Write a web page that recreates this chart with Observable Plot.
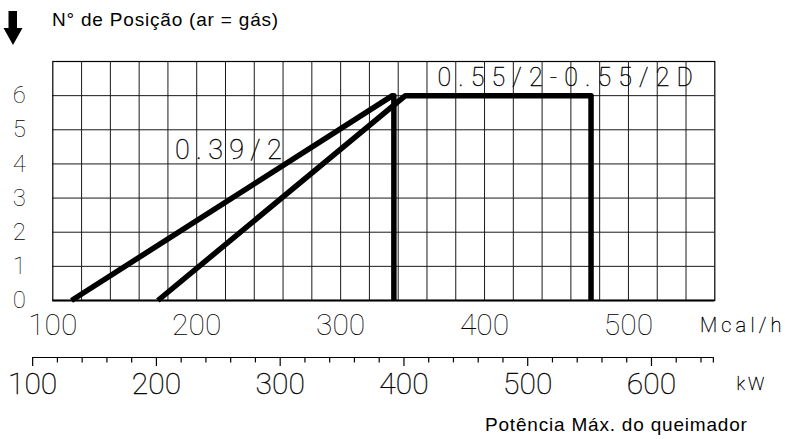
<!DOCTYPE html>
<html><head><meta charset="utf-8">
<script src="https://cdn.jsdelivr.net/npm/d3@7"></script>
<script src="https://cdn.jsdelivr.net/npm/@observablehq/plot@0.6"></script>
<style>
body{margin:0;background:#fff;}
#wrap{position:relative;width:785px;height:439px;overflow:hidden;background:#fff;font-family:"Liberation Sans",Arial,sans-serif;color:#000;}
#title{position:absolute;left:52px;top:10px;font-size:19px;line-height:19px;letter-spacing:0.8px;white-space:nowrap;}
#caption{position:absolute;left:485px;top:415px;font-size:19px;line-height:19px;letter-spacing:0.8px;white-space:nowrap;}
#arrow{position:absolute;left:0;top:0;}
#main{position:absolute;left:0;top:0;}
#kw{position:absolute;left:0;top:345px;}
</style></head><body>
<div id="wrap">
  <div id="main"></div>
  <div id="kw"></div>
  <svg id="arrow" width="30" height="50"><polygon points="8.5,11 17,11 17,28 22.5,28 13,45 3.5,28 8.5,28" fill="#000"/></svg>
  <div id="title">N° de Posição (ar = gás)</div>
  <div id="caption">Potência Máx. do queimador</div>
</div>
<script>
// ---- data ----
const yTicks = [0, 1, 2, 3, 4, 5, 6];
const mcalTicks = [100, 200, 300, 400, 500];
const kwTicks = [100, 200, 300, 400, 500, 600];
const kwAxisEnd = 650;
const mcalPerKw = 0.86;

const curve039X = [113, 336, 337, 337];
const curve039Y = [0, 6, 6, 0];
const curve055X = [173, 345, 474, 474];
const curve055Y = [0, 6, 6, 0];

const labelNames = ["0.39/2", "0.55/2-0.55/2D"];
const labelX = [222, 456];
const labelY = [4.39, 6.53];

// ---- build ----
const curves = [
  ...curve039X.map((x, i) => ({s: labelNames[0], x, y: curve039Y[i]})),
  ...curve055X.map((x, i) => ({s: labelNames[1], x, y: curve055Y[i]}))
];
const thin = {fontFamily: "Roboto", fontWeight: 100, fill: "#000", stroke: "#000", strokeWidth: 0.35};
const spacing = {"Mcal/h": "4.2px", "0.39/2": "6.3px", "0.55/2-0.55/2D": "7.1px", "kW": "3px"};

function applySpacing(svg) {
  svg.querySelectorAll("text").forEach(t => {
    const s = spacing[t.textContent];
    if (s) {
      t.style.letterSpacing = s;
      const dx = parseFloat(s) / 2;
      t.setAttribute("transform", (t.getAttribute("transform") || "") + ` translate(${dx},0)`);
    }
  });
}

const main = Plot.plot({
  width: 785, height: 345,
  marginLeft: 52.3, marginRight: 70.7, marginTop: 61, marginBottom: 45,
  x: {domain: [100, 560]},
  y: {domain: [0, 7]},
  style: {background: "transparent", overflow: "visible", fontFamily: "Roboto"},
  marks: [
    Plot.ruleX(d3.range(120, 560, 20), {stroke: "#1a1a1a", strokeWidth: 1}),
    Plot.ruleY(d3.range(1, 7), {stroke: "#1a1a1a", strokeWidth: 1}),
    Plot.frame({stroke: "#000", strokeWidth: 1.2}),
    Plot.ruleY([0], {stroke: "#000", strokeWidth: 2}),
    Plot.line(curves, {x: "x", y: "y", z: "s", stroke: "#000", strokeWidth: 5.5, strokeLinejoin: "round", strokeLinecap: "butt"}),
    Plot.axisY({ticks: yTicks, tickSize: 0, tickPadding: 27, tickFormat: d => String(d), fontSize: 24, label: null, ...thin}),
    Plot.axisX({ticks: mcalTicks, tickSize: 0, tickPadding: 13, tickFormat: d => String(d), fontSize: 30, label: null, ...thin}),
    Plot.text(["Mcal/h"], {x: 578, y: 0, dy: 25, text: d => d, fontSize: 20, ...thin}),
    Plot.text([0], {x: labelX[0], y: labelY[0], text: () => labelNames[0], fontSize: 27, ...thin}),
    Plot.text([1], {x: labelX[1], y: labelY[1], text: () => labelNames[1], fontSize: 25, ...thin})
  ]
});
applySpacing(main);
document.getElementById("main").appendChild(main);

const kwMinor = d3.range(120, 650, 20).filter(d => d % 100 !== 0).concat([kwAxisEnd]);
const kw = Plot.plot({
  width: 785, height: 60,
  marginLeft: 52.3, marginRight: 70.7, marginTop: 12, marginBottom: 39,
  x: {domain: [100 / mcalPerKw, 560 / mcalPerKw], axis: null},
  y: {domain: [0, 1], range: [12, 21], axis: null},
  style: {background: "transparent", overflow: "visible", fontFamily: "Roboto"},
  marks: [
    Plot.ruleY([0], {x1: kwTicks[0], x2: kwAxisEnd, stroke: "#000", strokeWidth: 1.2}),
    Plot.ruleX(kwTicks, {y1: 0, y2: 1, stroke: "#000", strokeWidth: 1.2}),
    Plot.ruleX(kwMinor, {y1: 0, y2: 0.6, stroke: "#000", strokeWidth: 1.2}),
    Plot.text(kwTicks, {x: d => d, y: 1, dy: 18, text: d => String(d), fontSize: 30, ...thin}),
    Plot.text(["kW"], {x: 680, y: 1, dy: 18, text: d => d, fontSize: 18, ...thin})
  ]
});
applySpacing(kw);
document.getElementById("kw").appendChild(kw);
</script>
</body></html>
